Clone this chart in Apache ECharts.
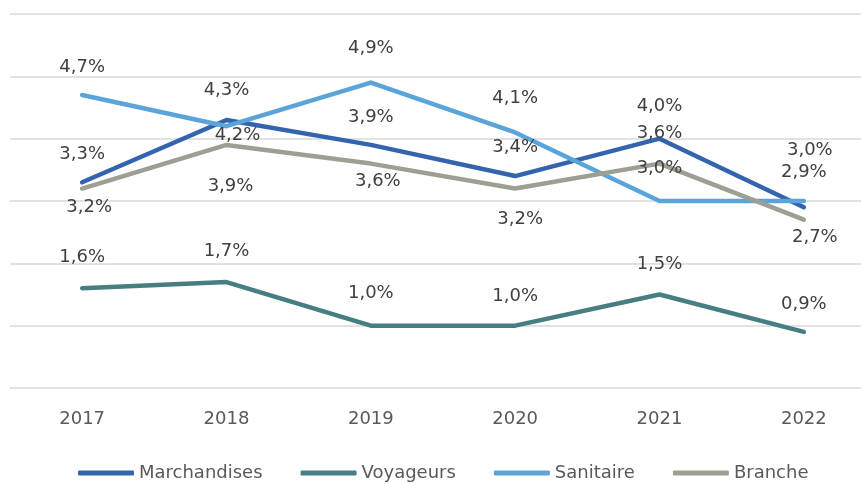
<!DOCTYPE html>
<html>
<head>
<meta charset="utf-8">
<script src="https://cdn.jsdelivr.net/npm/echarts@6/dist/echarts.min.js"></script>
<style>
  html, body { margin: 0; padding: 0; background: #fff; overflow: hidden; }
  /* le graphique déborde un peu à droite, comme l'original rogné */
  #chart { width: 876px; height: 484px; }
</style>
</head>
<body>
<div id="chart"></div>
<script>
// années
var years = ['2017', '2018', '2019', '2020', '2021', '2022'];

// taux par secteur (%)
var marchandises = [3.3, 4.3, 3.9, 3.4, 4.0, 2.9];
var voyageurs = [1.6, 1.7, 1.0, 1.0, 1.5, 0.9];
var sanitaire = [4.7, 4.2, 4.9, 4.1, 3.0, 3.0];
var branche = [3.2, 3.9, 3.6, 3.2, 3.6, 2.7];

// placement des étiquettes, décalage [dx, dy] depuis le point
var shiftMarch = [[0, -28], [0, -30], [0, -28], [0, -29], [0, -32], [0, -35]];
var shiftVoy = [[0, -31], [0, -31], [0, -32], [0, -29], [0, -30], [0, -28]];
var shiftSan = [[0, -28], [11, 9], [0, -34], [0, -34], [0, -33], [6, -51]];
var shiftBr = [[7, 19], [4, 41], [7, 18], [5, 31], [0, -30], [11, 18]];

var pct = function (v) {
    return v.toFixed(1).replace('.', ',') + '%';
};

function makeSeries(name, values, shifts, color) {
    return {
        name: name,
        type: 'line',
        symbol: 'circle',
        symbolSize: 3,
        lineStyle: { color: color, width: 4.5, cap: 'round', join: 'round' },
        itemStyle: { color: color },
        data: values.map(function (v, i) {
            return {
                value: v,
                label: { offset: shifts[i] }
            };
        }),
        label: {
            show: true,
            position: 'inside',
            color: '#404040',
            fontFamily: 'DejaVu Sans',
            fontSize: 18,
            formatter: function (p) { return pct(p.value); }
        },
        emphasis: { disabled: true }
    };
}

var chart = echarts.init(document.getElementById('chart'));

var option = {
    animation: false,
    backgroundColor: '#fff',
    grid: {
        left: 10,
        right: 0,
        top: 14,
        bottom: 96
    },
    legend: {
        left: 73,
        top: 459,
        itemWidth: 56,
        itemHeight: 5,
        itemGap: 38,
        icon: 'roundRect',
        textStyle: {
            color: '#595959',
            fontFamily: 'DejaVu Sans',
            fontSize: 18
        },
        data: ['Marchandises', 'Voyageurs', 'Sanitaire', 'Branche']
    },
    xAxis: {
        type: 'category',
        data: years,
        boundaryGap: true,
        axisLine: { show: false },
        axisTick: { show: false },
        axisLabel: {
            color: '#595959',
            fontFamily: 'DejaVu Sans',
            fontSize: 18,
            margin: 22
        }
    },
    yAxis: {
        type: 'value',
        min: 0,
        max: 6,
        interval: 1,
        axisLabel: { show: false },
        axisLine: { show: false },
        axisTick: { show: false },
        splitLine: {
            lineStyle: { color: '#d9d9d9', width: 1.5 }
        }
    },
    series: [
        makeSeries('Marchandises', marchandises, shiftMarch, '#3564ae'),
        makeSeries('Voyageurs', voyageurs, shiftVoy, '#477e82'),
        makeSeries('Sanitaire', sanitaire, shiftSan, '#5ba4da'),
        makeSeries('Branche', branche, shiftBr, '#9d9f93')
    ]
};

chart.setOption(option);
</script>
</body>
</html>
